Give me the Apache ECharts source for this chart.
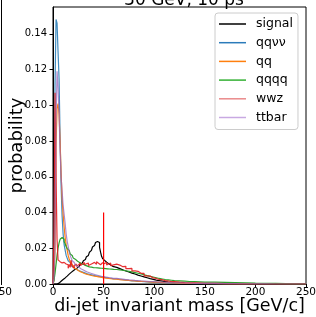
<!DOCTYPE html>
<html><head><meta charset="utf-8">
<script src="https://cdn.jsdelivr.net/npm/echarts@6/dist/echarts.min.js"></script>
<style>html,body{margin:0;padding:0;background:#fff}#c{width:316px;height:317px}</style>
</head><body><div id="c"></div>
<script>
// bin left edges [GeV/c]
const edges = [0,1,2,3,4,5,6,7,8,9,10,11,12,13,14,15,16,17,18,19,20,
21,22,23,24,25,26,27,28,29,30,31,32,33,34,35,36,37,38,39,40,
41,42,43,44,45,46,47,48,49,50,51,52,53,54,55,56,57,58,59,60,
63,66,69,72,75,78,81,84,87,90,93,96,99,102,105,108,111,114,117,120,
125,130,135,140,145,150,160,170,180,190,200,210,220,230,240,250];

const signal = [0,0,0,0,0,0.0005,0.001,0.0015,0.002,0.0025,0.003,0.0034,0.0039,0.0044,0.005,0.0055,0.006,0.0065,0.007,0.0074,0.0078,
0.0082,0.0086,0.009,0.0095,0.01,0.0106,0.0112,0.0118,0.0124,0.013,0.0137,0.0145,0.0152,0.016,0.0169,0.0178,0.0188,0.0198,0.0207,0.0215,
0.0224,0.0232,0.0238,0.0242,0.0232,0.0205,0.0178,0.0155,0.0142,0.0132,0.0127,0.0122,0.0118,0.0114,0.011,0.0106,0.0102,0.0099,0.0096,0.0093,
0.0086,0.0079,0.0073,0.0067,0.0061,0.0056,0.005,0.0045,0.004,0.0035,0.003,0.0026,0.0022,0.0019,0.0016,0.0013,0.001,0.0008,0.0006,0.0005,
0.0003,0.0002,0.0001,0.0001,0,0,0,0,0,0,0,0,0,0,0,0];

const qqvv = [0,0.004,0.111,0.148,0.146,0.13,0.115,0.082,0.055,0.038,0.028,0.022,0.019,0.016,0.0145,0.013,0.012,0.011,0.0102,0.0095,0.009,
0.0086,0.0083,0.008,0.0077,0.0074,0.0072,0.0069,0.0067,0.0065,0.0063,0.0061,0.0059,0.0057,0.0056,0.0054,0.0053,0.0051,0.005,0.0048,0.0047,
0.0046,0.0045,0.0044,0.0043,0.0042,0.0041,0.004,0.0039,0.0038,0.0037,0.0036,0.0035,0.0034,0.0033,0.0032,0.0031,0.0031,0.003,0.0029,0.0028,
0.0026,0.0024,0.0022,0.002,0.0018,0.0017,0.0015,0.0014,0.0013,0.0012,0.0011,0.001,0.0009,0.0008,0.0007,0.0006,0.0005,0.0005,0.0004,0.0004,
0.0003,0.0003,0.0002,0.0002,0.0002,0.0001,0.0001,0.0001,0.0001,0,0,0,0,0,0,0];

const qq = [0,0.002,0.02,0.078,0.098,0.101,0.095,0.08,0.062,0.048,0.039,0.032,0.026,0.022,0.019,0.016,0.014,0.0125,0.0112,0.0102,0.0094,
0.0089,0.0084,0.008,0.0076,0.0072,0.0069,0.0066,0.0064,0.0061,0.0059,0.0057,0.0055,0.0053,0.0052,0.005,0.0049,0.0047,0.0046,0.0045,0.0044,
0.0043,0.0042,0.0041,0.004,0.0039,0.0038,0.0037,0.0036,0.0035,0.0034,0.0034,0.0033,0.0032,0.0031,0.0031,0.003,0.0029,0.0028,0.0028,0.0027,
0.0025,0.0023,0.0022,0.002,0.0019,0.0018,0.0016,0.0015,0.0014,0.0013,0.0012,0.0011,0.001,0.0009,0.0008,0.0008,0.0007,0.0006,0.0006,0.0005,
0.0004,0.0004,0.0003,0.0003,0.0002,0.0002,0.0001,0.0001,0.0001,0,0,0,0,0,0,0];

const qqqq = [0,0.002,0.006,0.011,0.016,0.02,0.023,0.025,0.026,0.0258,0.025,0.0238,0.0225,0.021,0.0198,0.0188,0.0178,0.0168,0.016,0.0152,0.0145,
0.0139,0.0134,0.0129,0.0125,0.0121,0.0118,0.0115,0.0113,0.011,0.0106,0.0104,0.0101,0.01,0.0098,0.0096,0.0095,0.0094,0.0093,0.0092,0.0091,
0.0091,0.009,0.009,0.0089,0.0089,0.0088,0.0088,0.0087,0.0087,0.0086,0.0086,0.0085,0.0085,0.0084,0.0084,0.0083,0.0083,0.0082,0.0082,0.0081,
0.0079,0.0077,0.0074,0.0071,0.0068,0.0064,0.006,0.0056,0.0052,0.0047,0.0043,0.0039,0.0035,0.0031,0.0028,0.0025,0.0023,0.0021,0.0019,0.0018,
0.0016,0.0014,0.0013,0.0012,0.0011,0.001,0.0009,0.0008,0.0007,0.0005,0.0004,0.0003,0.0002,0.0001,0.0001,0];

const wwz = [0,0.03,0.107,0.06,0.025,0.0135,0.0125,0.013,0.0118,0.0126,0.0121,0.0128,0.0112,0.0119,0.0108,0.0088,0.011,0.0093,0.0134,0.0098,0.0089,
0.0104,0.0112,0.0099,0.0106,0.0115,0.0118,0.0103,0.0111,0.0117,0.0121,0.0108,0.0113,0.0122,0.0117,0.0104,0.0109,0.0119,0.0115,0.0107,0.0121,
0.0113,0.011,0.0124,0.0116,0.0105,0.0108,0.0118,0.0119,0.0109,0.0114,0.0125,0.0122,0.0107,0.0112,0.0121,0.0117,0.0103,0.0106,0.0114,0.0111,
0.0106,0.0097,0.0099,0.0086,0.0087,0.0073,0.0071,0.006,0.0059,0.0046,0.0044,0.0034,0.0031,0.0025,0.0024,0.0018,0.0017,0.0013,0.0013,0.001,
0.0008,0.0007,0.0006,0.0005,0.0004,0.0003,0.0002,0.0001,0,0,0,0,0,0,0,0];

const ttbar = [0,0.003,0.02,0.09,0.119,0.11,0.095,0.075,0.06,0.052,0.044,0.039,0.034,0.028,0.024,0.021,0.018,0.016,0.0145,0.013,0.012,
0.0113,0.0106,0.0101,0.0096,0.0092,0.0088,0.0084,0.0081,0.0078,0.0075,0.0072,0.007,0.0067,0.0065,0.0063,0.0061,0.0059,0.0057,0.0055,0.0054,
0.0052,0.0051,0.0049,0.0048,0.0046,0.0045,0.0043,0.0042,0.0041,0.004,0.0039,0.0038,0.0037,0.0036,0.0035,0.0034,0.0033,0.0032,0.0031,0.0031,
0.0029,0.0027,0.0025,0.0023,0.0022,0.002,0.0019,0.0017,0.0016,0.0015,0.0014,0.0013,0.0012,0.0011,0.001,0.0009,0.0008,0.0008,0.0007,0.0006,
0.0005,0.0005,0.0004,0.0004,0.0003,0.0003,0.0002,0.0002,0.0001,0.0001,0.0001,0,0,0,0,0];

const cutMass = [50, 50];
const cutProb = [0, 0.04];

const seriesNames = ['signal','qqνν','qq','qqqq','wwz','ttbar'];
const seriesVals = [signal, qqvv, qq, qqqq, wwz, ttbar];
const colors = ['#000000','#1f77b4','#ff7f0e','#2ca02c','#e31a1c','#9467bd'];
const opac = [1, 0.85, 1, 1, 0.9, 0.75];
const legendColors = ['#000000','#2b7bba','#ff7f0e','#33b033','#ea8a8b','#c8a9e2'];
const yTicks = ['0.00','0.02','0.04','0.06','0.08','0.10','0.12','0.14'];
const xTicks = ['0','50','100','150','200','250'];

const F = 'DejaVu Sans';
const chart = echarts.init(document.getElementById('c'), null, {renderer:'canvas'});
const series = seriesNames.map((n,i)=>({
  name:n, type:'line', step:'end', symbol:'none', animation:false,
  data: edges.map((e,k)=>[e, seriesVals[i][k]]),
  lineStyle:{color:colors[i], width:1.2, opacity:opac[i]},
  itemStyle:{color:legendColors[i]}
}));
series.push({name:'cut', type:'line', symbol:'none', animation:false, color:'#ff0000', z:3,
  data: cutMass.map((m,k)=>[m, cutProb[k]]),
  itemStyle:{color:'#ff0000'},
  lineStyle:{color:'#ff0000', width:1.2}});

chart.setOption({
  animation:false,
  backgroundColor:'#ffffff',
  title:{text:'30 GeV, 10 ps', left:179, top:-13, textAlign:'center',
    textStyle:{fontFamily:F, fontSize:17, fontWeight:'normal', color:'#000'}},
  grid:{left:53, top:7, right:10, bottom:33, containLabel:false, outerBoundsMode:'none',
    show:true, borderColor:'#000', borderWidth:1, backgroundColor:'#fff'},
  legend:{orient:'vertical', left:215, top:13, data:seriesNames, icon:'rect', itemWidth:27, itemHeight:1.5,
    itemGap:4.7, padding:[4,5,5,4], backgroundColor:'#fff', borderColor:'#cccccc', borderWidth:1, borderRadius:3,
    textStyle:{fontFamily:F, fontSize:12.5, color:'#000', lineHeight:14, padding:[0,0,0,5]}},
  xAxis:{type:'value', min:0, max:250, interval:50,
    name:'di-jet invariant mass [GeV/c]', nameLocation:'middle', nameGap:13, nameMoveOverlap:false,
    nameTextStyle:{fontFamily:F, fontSize:17.5, color:'#000'},
    axisLine:{lineStyle:{color:'#000', width:1}}, axisTick:{length:3.5, lineStyle:{color:'#000'}},
    axisLabel:{fontFamily:F, fontSize:10.5, color:'#000', margin:3, formatter:v=>xTicks[Math.round(v/50)]},
    splitLine:{show:false}},
  yAxis:{type:'value', min:0, max:0.155, interval:0.02,
    name:'probability', nameLocation:'middle', nameGap:27, nameRotate:90, nameMoveOverlap:false,
    nameTextStyle:{fontFamily:F, fontSize:18, color:'#000'},
    axisLine:{show:true, lineStyle:{color:'#000', width:1}}, axisTick:{show:true, length:3.5, lineStyle:{color:'#000'}},
    axisLabel:{fontFamily:F, fontSize:10, color:'#000', margin:6, showMaxLabel:false,
      formatter:v=>{const i=Math.round(v/0.02); return Math.abs(v-i*0.02)<1e-9 && i<yTicks.length ? yTicks[i] : '';}},
    splitLine:{show:false}},
  graphic:[
    {type:'line', shape:{x1:1.5,y1:0,x2:1.5,y2:285}, style:{stroke:'#000', lineWidth:1}},
    {type:'text', x:2, y:292, style:{text:'250', font:'10.5px "DejaVu Sans"', fill:'#000', textAlign:'center', textVerticalAlign:'middle'}}
  ],
  series:series
});
</script></body></html>
